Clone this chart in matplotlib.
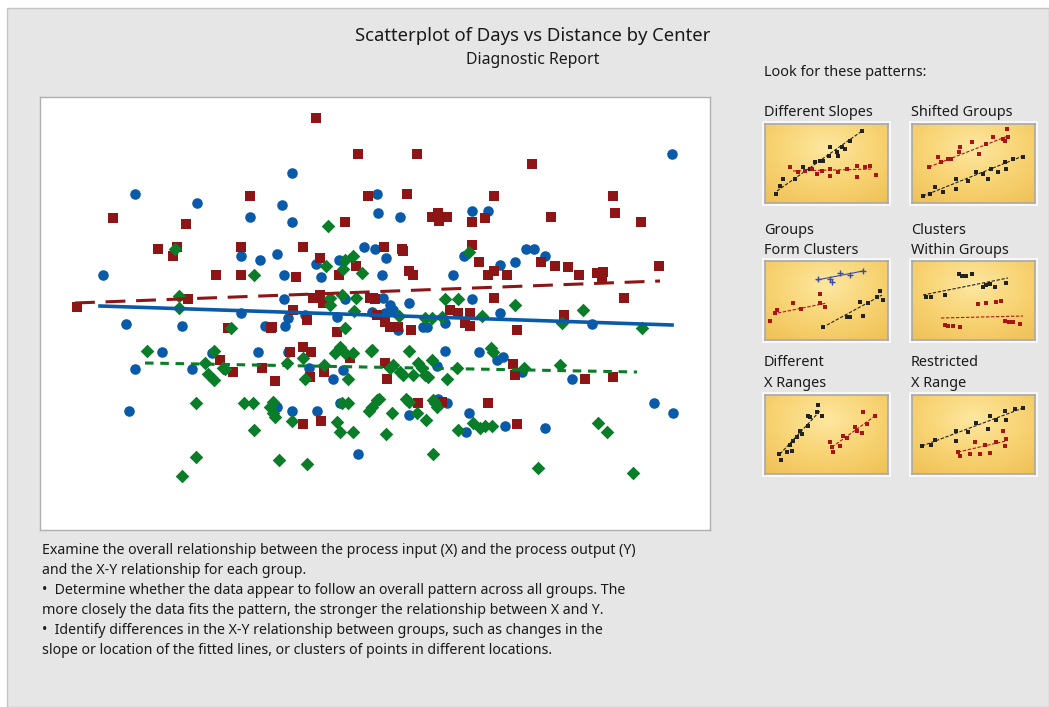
import numpy as np
import matplotlib
matplotlib.use("Agg")
import matplotlib.pyplot as plt
from matplotlib.patches import Rectangle
from matplotlib.colors import LinearSegmentedColormap

plt.rcParams['font.family'] = ['Noto Sans', 'DejaVu Sans']

# Distance (x) and Days (y) readings (y grows downwards)
blue_x = [135, 197, 282, 250, 292, 292, 377, 378, 241, 260, 277, 364, 375, 339, 316, 103, 284, 321, 284, 345,
          672, 400, 472, 488, 386, 382, 464, 526, 534, 545, 515, 500, 453, 472, 409, 126, 182, 241, 265, 285,
          288, 305, 337, 372, 162, 135, 212, 192, 258, 288, 309, 333, 343, 277, 292, 317, 340, 129, 358, 592,
          500, 445, 423, 427, 398, 385, 393, 390, 383, 445, 479, 497, 503, 437, 522, 572, 409, 447, 438, 469,
          466, 505, 545, 654, 673]
blue_y = [194, 203, 205, 217, 222, 173, 194, 213, 256, 260, 254, 247, 249, 260, 264, 275, 275, 277, 299, 299,
          154, 217, 211, 211, 258, 275, 256, 249, 249, 256, 262, 265, 275, 299, 303, 324, 326, 313, 326, 326,
          318, 315, 317, 312, 352, 369, 353, 369, 352, 352, 368, 379, 370, 407, 411, 411, 403, 411, 454, 324,
          313, 323, 327, 327, 330, 313, 310, 305, 298, 351, 352, 360, 357, 366, 372, 379, 415, 403, 399, 413,
          432, 426, 428, 403, 413]

red_x = [316, 358, 250, 368, 113, 186, 345, 158, 177, 173, 241, 303, 320, 356, 216, 241, 296, 339, 188, 77,
         313, 323, 373, 293, 417, 532, 407, 494, 613, 432, 438, 447, 439, 472, 485, 551, 615, 641, 384, 402,
         403, 409, 413, 472, 479, 541, 488, 494, 507, 555, 568, 579, 597, 603, 602, 659, 494, 624, 370, 375,
         320, 307, 377, 272, 228, 271, 337, 220, 233, 262, 275, 290, 303, 311, 310, 324, 350, 303, 321, 564,
         517, 470, 465, 470, 450, 458, 411, 385, 390, 398, 513, 515, 585, 613, 385, 387, 418, 442, 488, 517]
red_y = [118, 154, 196, 196, 218, 224, 222, 249, 247, 256, 247, 247, 258, 266, 275, 275, 277, 275, 299, 307,
         298, 303, 298, 310, 154, 164, 194, 196, 196, 217, 213, 217, 221, 222, 218, 217, 213, 222, 247, 249,
         251, 271, 275, 245, 262, 262, 275, 271, 275, 266, 267, 275, 273, 272, 277, 266, 298, 298, 298, 299,
         295, 320, 315, 327, 328, 328, 332, 360, 372, 368, 381, 352, 347, 352, 377, 372, 358, 424, 421, 315,
         330, 313, 323, 326, 310, 313, 330, 322, 327, 327, 364, 375, 379, 377, 363, 379, 403, 402, 403, 424]

green_x = [328, 175, 345, 353, 343, 326, 362, 254, 179, 330, 342, 330, 356, 179, 469, 445, 458, 515, 583, 231,
           345, 354, 147, 214, 205, 225, 208, 214, 223, 303, 287, 305, 324, 348, 340, 335, 345, 353, 371, 377,
           196, 244, 253, 273, 270, 273, 275, 292, 342, 348, 337, 340, 353, 369, 254, 196, 182, 279, 307, 642,
           562, 482, 425, 432, 442, 399, 372, 409, 491, 493, 524, 560, 457, 447, 432, 418, 422, 428, 425, 393,
           400, 403, 413, 390, 372, 379, 392, 386, 406, 409, 417, 426, 433, 437, 435, 473, 480, 492, 485, 458,
           598, 607, 433, 538, 633]
green_y = [226, 249, 260, 256, 269, 266, 273, 275, 296, 298, 295, 305, 298, 308, 252, 299, 299, 305, 310, 328,
           328, 311, 351, 351, 363, 369, 374, 380, 368, 358, 363, 379, 365, 379, 347, 353, 353, 353, 351, 400,
           403, 403, 403, 402, 407, 413, 417, 421, 403, 403, 422, 432, 432, 411, 430, 457, 476, 460, 464, 328,
           323, 316, 318, 318, 317, 316, 350, 351, 348, 352, 368, 365, 368, 379, 360, 363, 368, 377, 375, 365,
           372, 375, 375, 368, 407, 399, 413, 434, 399, 402, 413, 420, 400, 407, 403, 423, 428, 426, 426, 430,
           423, 432, 454, 468, 473]

# fitted lines per center: x range and y at both ends
blue_fit_x, blue_fit_y = [100, 672], [306, 325]
red_fit_x, red_fit_y = [75, 660], [303, 281]
green_fit_x, green_fit_y = [145, 637], [363, 372]

# pattern thumbnails: (title lines, black pts, black fit, red pts, red fit, extra group)
thumbs = [
    (["Different Slopes"],
     [(11, 70), (15, 62), (18, 55), (30, 55), (38, 43), (45, 45), (50, 38), (55, 37), (58, 37), (64, 32),
      (65, 23), (72, 28), (73, 32), (77, 23), (80, 25), (85, 17), (97, 7)],
     [(12, 67), (97, 7)],
     [(25, 43), (33, 48), (40, 47), (47, 45), (52, 50), (57, 47), (65, 45), (65, 52), (73, 48), (82, 45),
      (92, 42), (92, 53), (100, 43), (105, 42), (111, 51)],
     [(28, 47), (108, 45)], None, None),
    (["Shifted Groups"],
     [(11, 72), (18, 70), (23, 63), (31, 68), (44, 55), (44, 65), (56, 57), (64, 48), (71, 50), (76, 55),
      (79, 45), (86, 48), (93, 38), (94, 45), (101, 35), (111, 33)],
     [(11, 72), (111, 32)],
     [(17, 43), (26, 33), (29, 38), (36, 35), (39, 35), (48, 23), (47, 28), (60, 18), (67, 30), (74, 20),
      (81, 13), (91, 15), (95, 5), (96, 13), (93, 17)],
     [(17, 43), (96, 12)], None, None),
    (["Groups", "Form Clusters"],
     [(58, 66), (82, 56), (85, 56), (98, 55), (95, 41), (103, 42), (115, 30), (118, 39), (112, 36)],
     [(62, 64), (117, 34)],
     [(5, 60), (12, 49), (28, 42), (36, 48), (55, 33), (55, 42), (60, 46), (10, 52)],
     [(8, 53), (62, 42)],
     [(53, 18), (65, 18), (75, 12), (85, 14), (98, 10), (67, 21)],
     [(52, 19), (98, 10)]),
    (["Clusters", "Within Groups"],
     [(47, 13), (50, 15), (54, 15), (60, 13), (19, 36), (33, 34), (71, 26), (78, 23), (83, 26), (94, 22),
      (14, 36), (74, 24)],
     [(11, 34), (96, 17)],
     [(66, 43), (74, 42), (84, 41), (89, 40), (33, 64), (36, 65), (41, 65), (48, 66), (93, 60), (97, 61),
      (101, 61), (108, 63)],
     [(29, 57), (111, 55)], None, None),
    (["Different", "X Ranges"],
     [(14, 59), (16, 65), (22, 57), (27, 56), (25, 50), (28, 46), (32, 42), (35, 36), (37, 39), (43, 31),
      (45, 22), (43, 21), (52, 17), (53, 10), (57, 21)],
     [(15, 59), (55, 16)],
     [(65, 47), (67, 52), (68, 57), (75, 51), (78, 41), (82, 43), (90, 32), (92, 36), (97, 38), (98, 17),
      (102, 29), (110, 21)],
     [(67, 52), (110, 21)], None, None),
    (["Restricted", "X Range"],
     [(10, 51), (19, 50), (23, 45), (44, 36), (56, 37), (64, 28), (76, 34), (78, 21), (84, 25), (93, 16),
      (94, 25), (103, 14), (111, 13), (44, 46)],
     [(10, 51), (111, 13)],
     [(46, 57), (48, 61), (58, 59), (63, 47), (68, 59), (73, 50), (78, 58), (84, 47), (91, 36), (94, 44),
      (93, 51)],
     [(46, 57), (94, 46)], None, None),
]

body_lines = [
    "Examine the overall relationship between the process input (X) and the process output (Y)",
    "and the X-Y relationship for each group.",
    "\u2022  Determine whether the data appear to follow an overall pattern across all groups. The",
    "more closely the data fits the pattern, the stronger the relationship between X and Y.",
    "\u2022  Identify differences in the X-Y relationship between groups, such as changes in the",
    "slope or location of the fitted lines, or clusters of points in different locations.",
]

W, H = 1049, 707
BLUE = '#0A5AAA'
RED = '#8E1515'
GREEN = '#0A7D28'
TXT = '#1A1A1A'


def fx(x):
    return x / W


def fy(y):
    return 1 - y / H


fig = plt.figure(figsize=(W / 100, H / 100), dpi=100, facecolor='white')

# gray report background (drawn below all axes)
fig.patches.append(Rectangle((fx(7), 0), 1 - fx(7), fy(8), transform=fig.transFigure,
                             facecolor='#E6E6E6', edgecolor='#C4C4C4', lw=1, zorder=-10))

fig.text(fx(533), fy(36), "Scatterplot of Days vs Distance by Center", ha='center', va='center',
         fontsize=13.3, color=TXT)
fig.text(fx(533), fy(60), "Diagnostic Report", ha='center', va='center', fontsize=11.4, color=TXT)

# main scatter
ax = fig.add_axes([fx(40), fy(530), fx(710) - fx(40), fy(97) - fy(530)])
ax.set_facecolor('white')
ax.set_xlim(40, 710)
ax.set_ylim(530, 97)
ax.set_xticks([])
ax.set_yticks([])
for s in ax.spines.values():
    s.set_color('#B0B0B0')
    s.set_linewidth(1)

ax.scatter(blue_x, blue_y, s=58, marker='o', color=BLUE, linewidths=0, zorder=3)
ax.scatter(red_x, red_y, s=54, marker='s', color=RED, linewidths=0, zorder=3)
ax.scatter(green_x, green_y, s=48, marker='D', color=GREEN, linewidths=0, zorder=3)

ax.plot(red_fit_x, red_fit_y, color=RED, lw=2.2, dashes=(6.5, 3.5), zorder=4)
ax.plot(blue_fit_x, blue_fit_y, color=BLUE, lw=2.6, zorder=4)
ax.plot(green_fit_x, green_fit_y, color=GREEN, lw=2.2, dashes=(2.8, 2.2), zorder=4)

for i, line in enumerate(body_lines):
    fig.text(fx(42), fy(551 + i * 19.8), line, ha='left', va='center', fontsize=10.2, color=TXT)

# pattern thumbnails
fig.text(fx(764), fy(73), "Look for these patterns:", ha='left', va='center', fontsize=10.4,
         color=TXT, fontweight='semibold')

gold = LinearSegmentedColormap.from_list('gold', ['#FDE7A0', '#F8D474', '#EFC056'])
yy, xx = np.mgrid[0:1:80j, 0:1:124j]
grad = np.sqrt(((xx - 0.5) / 0.75) ** 2 + ((yy - 0.3) / 0.85) ** 2)

cols = [765, 912]
rows = [(112, 124), (240, 261), (373, 395)]
for k, (title, bpts, bfit, rpts, rfit, npts, nfit) in enumerate(thumbs):
    x0 = cols[k % 2]
    ty, y0 = rows[k // 2]
    if len(title) == 1:
        fig.text(fx(x0 - 1), fy(ty), title[0], ha='left', va='center', fontsize=10.4,
                 color=TXT, fontweight='semibold')
    else:
        fig.text(fx(x0 - 1), fy(ty - 10), title[0], ha='left', va='center', fontsize=10.4,
                 color=TXT, fontweight='semibold')
        fig.text(fx(x0 - 1), fy(ty + 10), title[1], ha='left', va='center', fontsize=10.4,
                 color=TXT, fontweight='semibold')
    fig.patches.append(Rectangle((fx(x0 - 3), fy(y0 + 82)), fx(129), 85 / H, transform=fig.transFigure,
                                 facecolor='#F8F8F8', edgecolor='none', zorder=-5))
    tax = fig.add_axes([fx(x0), fy(y0 + 79), fx(123), 79 / H])
    tax.imshow(grad, cmap=gold, extent=(0, 123, 79, 0), aspect='auto', zorder=0)
    tax.set_xlim(0, 123)
    tax.set_ylim(79, 0)
    tax.set_xticks([])
    tax.set_yticks([])
    for s in tax.spines.values():
        s.set_color('#A8A8A8')
        s.set_linewidth(1.2)
    bx, by = zip(*bpts)
    rx, ry = zip(*rpts)
    tax.plot(*zip(*bfit), color='#222222', lw=0.8, ls=(0, (3, 1.5)), zorder=2)
    tax.plot(*zip(*rfit), color='#B01818', lw=0.8, ls=(0, (3, 1.5)), zorder=2)
    tax.scatter(bx, by, s=8, marker='s', color='#222222', linewidths=0, zorder=3)
    tax.scatter(rx, ry, s=11, marker='s', color='#A81515', linewidths=0, zorder=3)
    if npts is not None:
        nx, ny = zip(*npts)
        tax.plot(*zip(*nfit), color='#3A4AA8', lw=0.8, zorder=2)
        tax.scatter(nx, ny, s=14, marker='+', color='#3A4AA8', linewidths=1, zorder=3)

fig.savefig('out.png', dpi=100, facecolor='white')
